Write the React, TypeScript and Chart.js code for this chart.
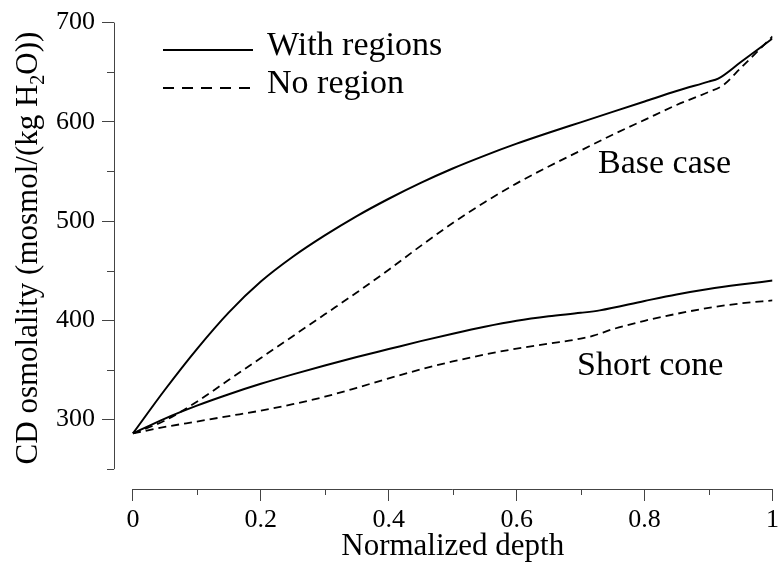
import React, { useEffect, useRef } from "react";
import { Chart, registerables } from "chart.js";

Chart.register(...registerables);

// ---- data ----
const BASE_WITH_X = [0, 0.05, 0.1, 0.15, 0.2, 0.25, 0.3, 0.35, 0.4, 0.45, 0.5, 0.55, 0.6, 0.65, 0.7, 0.75, 0.8, 0.85, 0.9, 0.915, 0.95, 1];
const BASE_WITH_Y = [286, 330, 371, 408, 439, 464, 485.5, 505, 522.5, 538.5, 553, 566, 578, 589, 599.5, 610, 620.5, 631, 640.5, 643.5, 660, 684];

const BASE_NO_X = [0, 0.05, 0.1, 0.15, 0.2, 0.25, 0.3, 0.35, 0.4, 0.45, 0.5, 0.55, 0.6, 0.65, 0.7, 0.75, 0.8, 0.85, 0.9, 0.922, 0.95, 1];
const BASE_NO_Y = [286, 299, 318, 340, 362, 384, 406, 428, 451, 475, 498, 519, 538, 555, 571, 587, 602, 617, 630, 636.5, 654, 686];

const SHORT_WITH_X = [0, 0.05, 0.1, 0.15, 0.2, 0.25, 0.3, 0.35, 0.4, 0.45, 0.5, 0.55, 0.6, 0.65, 0.7, 0.73, 0.8, 0.85, 0.9, 0.95, 1];
const SHORT_WITH_Y = [286, 301, 314, 325.5, 336, 345.5, 354.5, 363, 371, 379, 386.5, 393.5, 399.5, 404, 407.5, 410, 419.5, 426, 431.5, 436, 440];

const SHORT_NO_X = [0, 0.05, 0.1, 0.15, 0.2, 0.25, 0.3, 0.35, 0.4, 0.45, 0.5, 0.55, 0.6, 0.65, 0.7, 0.72, 0.75, 0.8, 0.85, 0.9, 0.95, 1];
const SHORT_NO_Y = [286, 292.5, 298, 303.5, 309, 315.5, 323, 332, 341.5, 350.5, 358.5, 365.5, 371.5, 376.5, 381.5, 384.5, 391, 399.5, 406.5, 412.5, 417, 420];

const X_MAJOR = [0, 0.2, 0.4, 0.6, 0.8, 1];
const X_MINOR = [0.1, 0.3, 0.5, 0.7, 0.9];
const Y_MAJOR = [300, 400, 500, 600, 700];
const Y_MINOR = [250, 350, 450, 550, 650];

const LEGEND_LABELS = ["With regions", "No region"];
const CASE_LABELS = ["Base case", "Short cone"];
const X_TITLE = "Normalized depth";
const Y_TITLE_PARTS = ["CD osmolality (mosmol/(kg H", "2", "O))"];

const FONT = '"Liberation Serif", "Times New Roman", serif';
const DASH = [8, 5];

const toPts = (xs: number[], ys: number[]) => xs.map((x, i) => ({ x, y: ys[i] }));

const decorPlugin = {
  id: "decor",
  afterDraw(chart: any) {
    const ctx = chart.ctx;
    const xs = chart.scales.x;
    const ys = chart.scales.y;
    const left = chart.chartArea.left;
    const bottom = chart.chartArea.bottom;
    ctx.save();
    ctx.strokeStyle = "#444";
    ctx.lineWidth = 1;
    // y axis line
    ctx.beginPath();
    ctx.moveTo(left + 0.5, ys.getPixelForValue(700));
    ctx.lineTo(left + 0.5, ys.getPixelForValue(250));
    ctx.stroke();
    // y minor ticks
    Y_MINOR.forEach((v) => {
      const p = Math.round(ys.getPixelForValue(v)) + 0.5;
      ctx.beginPath();
      ctx.moveTo(left - 7, p);
      ctx.lineTo(left, p);
      ctx.stroke();
    });
    // x axis line
    ctx.beginPath();
    ctx.moveTo(xs.getPixelForValue(0), bottom + 0.5);
    ctx.lineTo(xs.getPixelForValue(1), bottom + 0.5);
    ctx.stroke();
    X_MINOR.forEach((v) => {
      const p = Math.round(xs.getPixelForValue(v)) + 0.5;
      ctx.beginPath();
      ctx.moveTo(p, bottom);
      ctx.lineTo(p, bottom + 6);
      ctx.stroke();
    });

    // legend
    ctx.strokeStyle = "#000";
    ctx.lineWidth = 2;
    ctx.beginPath();
    ctx.moveTo(163, 50);
    ctx.lineTo(253, 50);
    ctx.stroke();
    ctx.setLineDash([11, 8]);
    ctx.beginPath();
    ctx.moveTo(163, 88);
    ctx.lineTo(253, 88);
    ctx.stroke();
    ctx.setLineDash([]);
    ctx.fillStyle = "#000";
    ctx.font = `34px ${FONT}`;
    ctx.textAlign = "left";
    ctx.textBaseline = "alphabetic";
    ctx.fillText(LEGEND_LABELS[0], 267, 55);
    ctx.fillText(LEGEND_LABELS[1], 267, 93);

    // case labels
    ctx.fillText(CASE_LABELS[0], 598, 173);
    ctx.fillText(CASE_LABELS[1], 577, 375);

    // x title
    ctx.font = `31px ${FONT}`;
    ctx.textAlign = "center";
    ctx.fillText(X_TITLE, (xs.getPixelForValue(0) + xs.getPixelForValue(1)) / 2, 555);

    // y title with subscript
    const mainFont = `31px ${FONT}`;
    const subFont = `20px ${FONT}`;
    ctx.font = mainFont;
    const w0 = ctx.measureText(Y_TITLE_PARTS[0]).width;
    const w2 = ctx.measureText(Y_TITLE_PARTS[2]).width;
    ctx.font = subFont;
    const w1 = ctx.measureText(Y_TITLE_PARTS[1]).width;
    const total = w0 + w1 + w2;
    ctx.translate(37, 248);
    ctx.rotate(-Math.PI / 2);
    ctx.textAlign = "left";
    let cx = -total / 2;
    ctx.font = mainFont;
    ctx.fillText(Y_TITLE_PARTS[0], cx, 0);
    cx += w0;
    ctx.font = subFont;
    ctx.fillText(Y_TITLE_PARTS[1], cx, 7);
    cx += w1;
    ctx.font = mainFont;
    ctx.fillText(Y_TITLE_PARTS[2], cx, 0);
    ctx.restore();
  },
};

export default function App() {
  const ref = useRef<HTMLCanvasElement | null>(null);
  useEffect(() => {
    if (!ref.current) return;
    const solid = { borderColor: "#000", borderWidth: 2, pointRadius: 0, cubicInterpolationMode: "monotone" as const, fill: false };
    const dashed = { ...solid, borderWidth: 1.8, borderDash: DASH };
    const chart = new Chart(ref.current, {
      type: "line",
      data: {
        datasets: [
          { label: "Base case, with regions", data: toPts(BASE_WITH_X, BASE_WITH_Y), ...solid },
          { label: "Base case, no region", data: toPts(BASE_NO_X, BASE_NO_Y), ...dashed },
          { label: "Short cone, with regions", data: toPts(SHORT_WITH_X, SHORT_WITH_Y), ...solid },
          { label: "Short cone, no region", data: toPts(SHORT_NO_X, SHORT_NO_Y), ...dashed },
        ],
      },
      options: {
        animation: false,
        responsive: true,
        maintainAspectRatio: false,
        layout: { padding: { top: 20, right: 8, left: 0, bottom: 0 } },
        plugins: { legend: { display: false }, tooltip: { enabled: false } },
        scales: {
          x: {
            type: "linear",
            min: -19 / 642,
            max: 1,
            afterFit: (s: any) => { s.height = 77; },
            afterBuildTicks: (s: any) => { s.ticks = X_MAJOR.map((v) => ({ value: v })); },
            border: { display: false },
            grid: { drawOnChartArea: false, drawTicks: true, tickLength: 12, color: "#444", lineWidth: 1 },
            ticks: {
              color: "#000",
              padding: 4,
              font: { family: FONT, size: 26 },
              maxRotation: 0,
              autoSkip: false,
              callback: (v: any) => String(Math.round(Number(v) * 10) / 10),
            },
          },
          y: {
            type: "linear",
            min: 230,
            max: 700,
            afterFit: (s: any) => { s.width = 114; },
            afterBuildTicks: (s: any) => { s.ticks = Y_MAJOR.map((v) => ({ value: v })); },
            border: { display: false },
            grid: { drawOnChartArea: false, drawTicks: true, tickLength: 12, color: "#444", lineWidth: 1 },
            ticks: {
              color: "#000",
              padding: 7,
              font: { family: FONT, size: 26 },
              autoSkip: false,
              callback: (v: any) => String(v),
            },
          },
        },
      },
      plugins: [decorPlugin],
    });
    return () => chart.destroy();
  }, []);
  return (
    <div style={{ position: "absolute", left: 0, top: 0, width: 783, height: 566, background: "#fff" }}>
      <canvas ref={ref} />
    </div>
  );
}
